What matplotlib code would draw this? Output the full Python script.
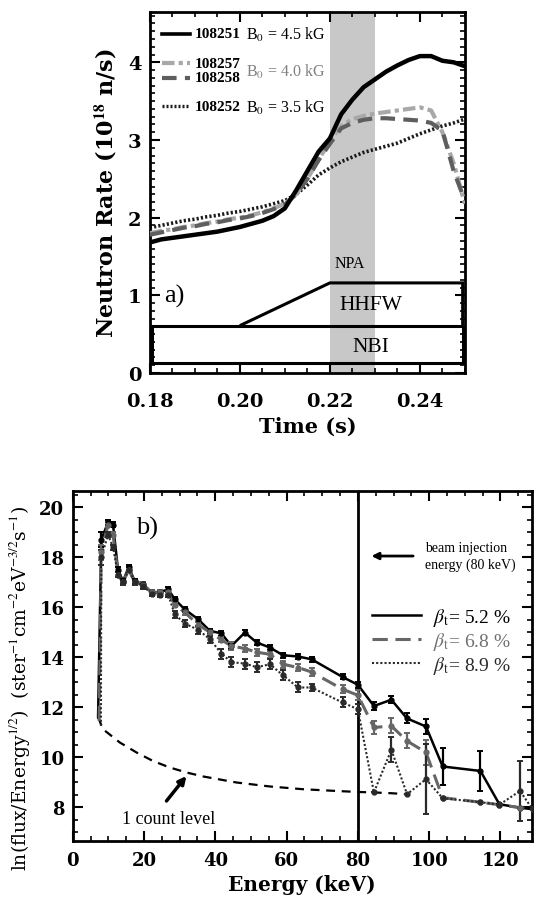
import matplotlib
matplotlib.use("Agg")
import matplotlib.pyplot as plt
from matplotlib.ticker import MultipleLocator, FormatStrFormatter
from matplotlib.patches import Polygon, Rectangle

plt.rcParams['mathtext.fontset'] = 'stix'
plt.rcParams['font.family'] = 'DejaVu Serif'

# ---- panel a) neutron rate vs time ----
time = [0.1800, 0.1825, 0.1850, 0.1875, 0.1900, 0.1925, 0.1950, 0.1975, 0.2000,
        0.2025, 0.2050, 0.2075, 0.2100, 0.2125, 0.2150, 0.2175, 0.2200, 0.2225,
        0.2250, 0.2275, 0.2300, 0.2325, 0.2350, 0.2375, 0.2400, 0.2425, 0.2450,
        0.2475, 0.2500]
rate_108251 = [1.68, 1.72, 1.74, 1.76, 1.78, 1.80, 1.82, 1.85, 1.88,
               1.92, 1.96, 2.02, 2.12, 2.35, 2.60, 2.85, 3.02, 3.33,
               3.52, 3.68, 3.78, 3.88, 3.96, 4.03, 4.08, 4.08, 4.02,
               4.00, 3.95]
rate_108257 = [1.80, 1.83, 1.85, 1.88, 1.90, 1.93, 1.95, 1.98, 2.00,
               2.03, 2.07, 2.12, 2.18, 2.30, 2.50, 2.75, 2.98, 3.18,
               3.27, 3.31, 3.34, 3.36, 3.38, 3.40, 3.42, 3.38, 3.10,
               2.70, 2.18]
rate_108258 = [1.78, 1.81, 1.84, 1.87, 1.89, 1.92, 1.94, 1.97, 1.99,
               2.02, 2.06, 2.11, 2.17, 2.30, 2.50, 2.74, 2.95, 3.15,
               3.22, 3.26, 3.28, 3.28, 3.27, 3.26, 3.25, 3.22, 3.12,
               2.60, 2.22]
rate_108252 = [1.87, 1.90, 1.93, 1.96, 1.98, 2.01, 2.03, 2.06, 2.08,
               2.11, 2.14, 2.18, 2.22, 2.30, 2.42, 2.55, 2.64, 2.72,
               2.78, 2.84, 2.88, 2.92, 2.96, 3.02, 3.08, 3.13, 3.18,
               3.22, 3.27]

npa_window = [0.22, 0.23]
nbi_level = [0.13, 0.61]
hhfw_ramp = [0.20, 0.22]
hhfw_level = 1.16
t_end = 0.2495

# ---- panel b) NPA spectra ----
energy = [8.0, 9.9, 11.3, 12.7, 14.1, 15.7, 17.4, 19.7, 22.1, 24.4, 26.8, 28.6,
          31.4, 35.2, 38.5, 41.7, 44.5, 48.3, 51.6, 55.3, 59.0, 63.2, 67.0,
          75.7, 80.0, 84.5, 89.4, 93.8, 99.1, 103.8, 114.4, 119.7, 125.5, 129.0]
beta52 = [18.7, 19.4, 19.3, 17.5, 17.05, 17.6, 17.05, 16.92, 16.6, 16.6, 16.72, 16.32,
          15.92, 15.52, 15.05, 14.96, 14.45, 14.99, 14.59, 14.39, 14.08, 14.03, 13.92,
          13.21, 12.9, 12.05, 12.3, 11.55, 11.23, 9.63, 9.45, 8.12, 7.98, 7.92]
err52 = [0.3, 0.1, 0.1, 0.1, 0.1, 0.1, 0.1, 0.1, 0.1, 0.1, 0.1, 0.1,
         0.1, 0.1, 0.1, 0.1, 0.1, 0.1, 0.1, 0.1, 0.1, 0.1, 0.1,
         0.1, 0.12, 0.15, 0.15, 0.2, 0.3, 0.75, 0.8, 0.0, 0.0, 0.0]
beta68 = [18.2, 19.3, 18.9, 17.3, 17.0, 17.5, 17.0, 16.9, 16.6, 16.6, 16.6, 16.1,
          15.8, 15.3, 15.0, 14.7, 14.45, 14.35, 14.2, 14.12, 13.72, 13.59, 13.41,
          12.72, 12.48, 11.19, 11.25, 10.65, 10.19, 8.38, 8.2, 8.1, 7.98, 7.92]
err68 = [0.3, 0.1, 0.1, 0.1, 0.1, 0.1, 0.1, 0.1, 0.1, 0.1, 0.1, 0.1,
         0.1, 0.1, 0.1, 0.1, 0.15, 0.15, 0.15, 0.15, 0.15, 0.15, 0.15,
         0.15, 0.2, 0.25, 0.3, 0.3, 0.5, 0.0, 0.0, 0.0, 0.0, 0.0]
beta89 = [18.0, 18.9, 18.4, 17.3, 17.0, 17.5, 17.0, 16.85, 16.55, 16.5, 16.5, 15.72,
          15.35, 15.1, 14.72, 14.15, 13.8, 13.75, 13.6, 13.72, 13.28, 12.79, 12.79,
          12.19, 11.92, 8.59, 10.3, 8.52, 9.12, 8.36, 8.2, 8.1, 8.65, 7.92]
err89 = [0.3, 0.1, 0.1, 0.1, 0.1, 0.1, 0.1, 0.1, 0.1, 0.1, 0.1, 0.15,
         0.15, 0.15, 0.15, 0.2, 0.2, 0.2, 0.2, 0.2, 0.2, 0.2, 0.15,
         0.2, 0.2, 0.0, 0.5, 0.0, 1.4, 0.0, 0.0, 0.0, 1.2, 0.0]
start_energy = [7.1, 7.4, 7.9]
start_value = [11.6, 11.45, 11.25]

count_energy = [7.1, 8.5, 13.2, 17.9, 22.5, 27.2, 31.9, 36.6, 45.9, 55.3, 64.6,
                74.0, 80.0, 84.5, 89.4, 93.8]
count_level = [11.6, 11.12, 10.59, 10.19, 9.85, 9.59, 9.39, 9.23, 8.99, 8.83, 8.72,
               8.65, 8.61, 8.59, 8.56, 8.52]
beam_energy = 80

fig = plt.figure(figsize=(5.35, 9.03), dpi=100)
serif = 'Liberation Serif'

# ================= panel a =================
ax1 = fig.add_axes([0.280, 0.5858, 0.589, 0.400])
ax1.axvspan(npa_window[0], npa_window[1], color='#c8c8c8', lw=0, zorder=0)
ax1.plot(time, rate_108252, color='#1a1a1a', lw=2.6, ls=(0, (0.6, 0.6)), zorder=2)
ax1.plot(time, rate_108257, color='#a8a8a8', lw=3.0, ls=(0, (3, 1, 1, 1)), zorder=3)
ax1.plot(time, rate_108258, color='#5e5e5e', lw=3.0, ls=(0, (3.5, 2)), zorder=3)
ax1.plot(time, rate_108251, color='black', lw=3.2, zorder=4)

# heating schedule boxes
ax1.add_patch(Rectangle((0.1805, nbi_level[0]), t_end - 0.1805, nbi_level[1] - nbi_level[0],
                        fill=False, ec='black', lw=2.2, zorder=5))
ax1.add_patch(Polygon([(hhfw_ramp[0], nbi_level[1]), (hhfw_ramp[1], hhfw_level),
                       (t_end, hhfw_level), (t_end, nbi_level[1])],
                      closed=False, fill=False, ec='black', lw=2.2, zorder=5))
ax1.text(0.229, 0.34, 'NBI', family=serif, fontsize=15.5, ha='center', va='center')
ax1.text(0.229, 0.88, 'HHFW', family=serif, fontsize=15.5, ha='center', va='center')
ax1.text(0.2245, 1.42, 'NPA', family=serif, fontsize=11.5, ha='center', va='center')
ax1.text(0.1855, 1.0, 'a)', family=serif, fontsize=19, ha='center', va='center')

# legend drawn as keys + text
keys = [(0.939, dict(color='black', lw=2.6, ls='-')),
        (0.857, dict(color='#a8a8a8', lw=3.0, ls=(0, (3, 1, 1, 1)))),
        (0.818, dict(color='#5e5e5e', lw=3.0, ls=(0, (3.5, 2)))),
        (0.738, dict(color='#1a1a1a', lw=2.4, ls=(0, (0.6, 0.6))))]
shots = ['108251', '108257', '108258', '108252']
for (yk, st), shot in zip(keys, shots):
    ax1.plot([0.038, 0.127], [yk, yk], transform=ax1.transAxes, **st)
    ax1.text(0.143, yk, shot, transform=ax1.transAxes, family=serif,
             fontweight='bold', fontsize=11, va='center')
ax1.text(0.305, 0.939, r'B$_0$ = 4.5 kG', transform=ax1.transAxes, family=serif,
         fontsize=11.5, va='center')
ax1.text(0.305, 0.837, r'B$_0$ = 4.0 kG', transform=ax1.transAxes, family=serif,
         fontsize=11.5, va='center', color='#808080')
ax1.text(0.305, 0.738, r'B$_0$ = 3.5 kG', transform=ax1.transAxes, family=serif,
         fontsize=11.5, va='center')

ax1.set_xlim(0.18, 0.25)
ax1.set_ylim(0, 4.65)
ax1.xaxis.set_major_locator(MultipleLocator(0.02))
ax1.xaxis.set_minor_locator(MultipleLocator(0.005))
ax1.xaxis.set_major_formatter(FormatStrFormatter('%.2f'))
ax1.yaxis.set_major_locator(MultipleLocator(1))
ax1.yaxis.set_minor_locator(MultipleLocator(0.1))
ax1.set_xlabel('Time (s)', fontsize=15, fontweight='bold', labelpad=4)
ax1.set_ylabel(r'Neutron Rate (10$^{\mathbf{18}}$ n/s)', fontsize=16, fontweight='bold',
               labelpad=6)

# ================= panel b =================
ax2 = fig.add_axes([0.136, 0.0676, 0.858, 0.3875])
ax2.axvline(beam_energy, color='black', lw=2)
ax2.plot(count_energy, count_level, color='black', lw=1.6, ls=(0, (4, 3)), zorder=2)

series = [(beta52, err52, 'black', '-', 1.8),
          (beta68, err68, '#666666', (0, (5, 2.5)), 2.2),
          (beta89, err89, '#2a2a2a', (0, (1, 1)), 1.5)]
handles = []
for i, (vals, errs, col, ls, lw) in enumerate(series):
    xs = [start_energy[i]] + energy
    ys = [start_value[i]] + vals
    line, = ax2.plot(xs, ys, color=col, ls=ls, lw=lw, zorder=3 + i * 0.1)
    ax2.errorbar(energy, vals, yerr=errs, fmt='o', ms=3.5, color=col, ecolor=col,
                 elinewidth=1.6, capsize=2.5, capthick=1.4, zorder=4)
    handles.append(line)

leg = ax2.legend(handles,
                 [r'$\beta_\mathrm{t}$= 5.2 %', r'$\beta_\mathrm{t}$= 6.8 %', r'$\beta_\mathrm{t}$= 8.9 %'],
                 loc='upper right', bbox_to_anchor=(0.975, 0.70), frameon=False,
                 prop={'family': serif, 'size': 14}, handlelength=2.5,
                 handletextpad=0.6, labelspacing=0.1, borderpad=0)
for txt, col in zip(leg.get_texts(), ['black', '#707070', '#2a2a2a']):
    txt.set_color(col)

ax2.annotate('', xy=(83.8, 18.05), xytext=(95.5, 18.05),
             arrowprops=dict(arrowstyle='-|>', lw=2, color='black', mutation_scale=10,
                             shrinkA=0, shrinkB=0))
ax2.text(98.8, 18.05, 'beam injection\nenergy (80 keV)', family=serif, fontsize=10,
         va='center', ha='left', linespacing=1.3)
ax2.annotate('', xy=(31.9, 9.25), xytext=(26.3, 8.25),
             arrowprops=dict(arrowstyle='-|>', lw=2.5, color='black', mutation_scale=11,
                             shrinkA=0, shrinkB=0))
ax2.text(26.8, 7.55, '1 count level', family=serif, fontsize=13, ha='center', va='center')
ax2.text(20.7, 19.2, 'b)', family=serif, fontsize=19, ha='center', va='center')

ax2.set_xlim(0, 128.8)
ax2.set_ylim(6.65, 20.65)
ax2.xaxis.set_major_locator(MultipleLocator(20))
ax2.xaxis.set_minor_locator(MultipleLocator(5))
ax2.yaxis.set_major_locator(MultipleLocator(2))
ax2.yaxis.set_minor_locator(MultipleLocator(0.5))
ax2.set_xlabel('Energy (keV)', fontsize=14.5, fontweight='bold', labelpad=4)
ax2.set_ylabel(r'ln(flux/Energy$^{1/2}$)  (ster$^{-1}$cm$^{-2}$eV$^{-3/2}$s$^{-1}$)',
               fontsize=13.5)
ax2.yaxis.set_label_coords(-0.088, 0.44)

for ax, fs, xpad in [(ax1, 14, 14), (ax2, 13, 7)]:
    for sp in ax.spines.values():
        sp.set_linewidth(2)
    ax.tick_params(which='both', direction='in', top=True, right=True, width=1.5)
    ax.tick_params(which='major', length=7, labelsize=fs, pad=6)
    ax.tick_params(axis='x', which='major', pad=xpad)
    ax.tick_params(which='minor', length=3.5, width=1.2)
    for lab in ax.get_xticklabels() + ax.get_yticklabels():
        lab.set_fontweight('bold')

fig.savefig('out.png', dpi=100)
